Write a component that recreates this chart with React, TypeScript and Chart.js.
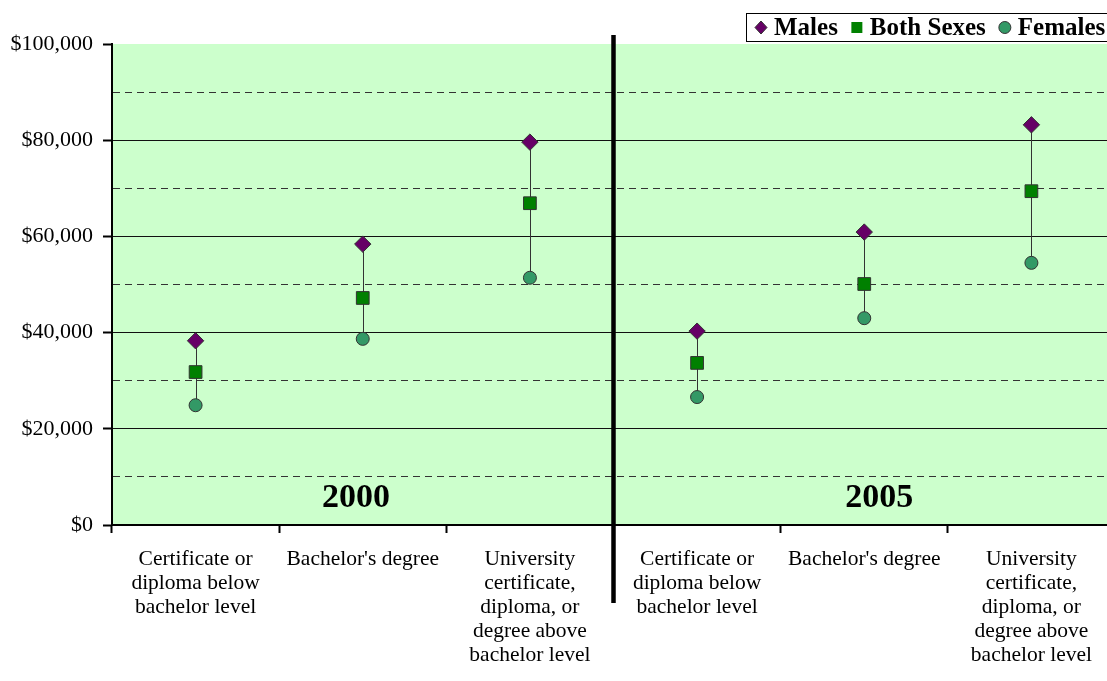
import React, { useEffect, useRef } from 'react';
import { Chart, registerables } from 'chart.js';

Chart.register(...registerables);

const categories: string[][] = [
  ['Certificate or', 'diploma below', 'bachelor level'],
  ["Bachelor's degree"],
  ['University', 'certificate,', 'diploma, or', 'degree above', 'bachelor level'],
  ['Certificate or', 'diploma below', 'bachelor level'],
  ["Bachelor's degree"],
  ['University', 'certificate,', 'diploma, or', 'degree above', 'bachelor level'],
];

const seriesNames = ['Males', 'Both Sexes', 'Females'];
const males = [38300, 58400, 79600, 40300, 60900, 83200];
const bothSexes = [31800, 47200, 66900, 33700, 50100, 69400];
const females = [24900, 38700, 51400, 26600, 43000, 54500];

const yearLabels = ['2000', '2005'];
const yearLabelCategory = [0.96, 4.09];
const dividerCategory = 2.5;

const yMin = 0;
const yMax = 100000;
const yStep = 10000;
const yLabelStep = 20000;

const FONT = "'Liberation Serif', 'Times New Roman', serif";

const decorPlugin = {
  id: 'decor',
  beforeDraw(chart: any) {
    const { ctx, chartArea: a } = chart;
    ctx.save();
    ctx.fillStyle = '#CCFFCC';
    ctx.fillRect(a.left, a.top, a.right - a.left, a.bottom - a.top);
    ctx.restore();
  },
  beforeDatasetsDraw(chart: any) {
    const { ctx, chartArea: a, scales } = chart;
    const m = chart.getDatasetMeta(0).data;
    const f = chart.getDatasetMeta(2).data;
    ctx.save();
    ctx.strokeStyle = '#333333';
    ctx.lineWidth = 1;
    for (let i = 0; i < m.length; i++) {
      ctx.beginPath();
      ctx.moveTo(Math.round(m[i].x) + 0.5, m[i].y);
      ctx.lineTo(Math.round(f[i].x) + 0.5, f[i].y);
      ctx.stroke();
    }
    ctx.fillStyle = '#000';
    ctx.font = `bold 34px ${FONT}`;
    ctx.textAlign = 'center';
    ctx.textBaseline = 'middle';
    yearLabels.forEach((t, i) => {
      ctx.fillText(t, scales.x.getPixelForValue(yearLabelCategory[i]), a.bottom - 27);
    });
    ctx.restore();
  },
  afterDraw(chart: any) {
    const { ctx, chartArea: a, scales } = chart;
    ctx.save();
    // divider between the two years
    const dx = scales.x.getPixelForValue(dividerCategory);
    ctx.strokeStyle = '#000';
    ctx.lineWidth = 4.5;
    ctx.beginPath();
    ctx.moveTo(dx, a.top - 9);
    ctx.lineTo(dx, a.bottom + 78);
    ctx.stroke();

    // legend
    ctx.fillStyle = '#fff';
    ctx.fillRect(746, 13, 400, 28);
    ctx.strokeStyle = '#000';
    ctx.lineWidth = 1;
    ctx.strokeRect(746.5, 13.5, 400, 28);
    ctx.font = `bold 25px ${FONT}`;
    ctx.textBaseline = 'middle';
    ctx.textAlign = 'left';
    let cursor = 761;
    const cy = 27.5;
    chart.data.datasets.forEach((ds: any) => {
      ctx.fillStyle = ds.backgroundColor;
      ctx.strokeStyle = '#333';
      ctx.lineWidth = 1;
      ctx.beginPath();
      if (ds.pointStyle === 'rectRot') {
        ctx.moveTo(cursor, cy - 6.5);
        ctx.lineTo(cursor + 6, cy);
        ctx.lineTo(cursor, cy + 6.5);
        ctx.lineTo(cursor - 6, cy);
        ctx.closePath();
      } else if (ds.pointStyle === 'rect') {
        ctx.rect(cursor - 5.5, cy - 5.5, 11, 11);
      } else {
        ctx.arc(cursor, cy, 6, 0, Math.PI * 2);
      }
      ctx.fill();
      if (ds.pointStyle !== 'rect') ctx.stroke();
      ctx.fillStyle = '#000';
      const tx = cursor + 13;
      ctx.fillText(ds.label, tx, cy + 1);
      cursor = tx + ctx.measureText(ds.label).width + 19;
    });
    ctx.restore();
  },
};

export default function App() {
  const ref = useRef<HTMLCanvasElement>(null);
  useEffect(() => {
    document.body.style.margin = '0';
    const canvas = ref.current!;
    const chart = new Chart(canvas, {
      type: 'line',
      data: {
        labels: categories,
        datasets: [
          {
            label: seriesNames[0],
            data: males,
            showLine: false,
            pointStyle: 'rectRot',
            pointRadius: 8.2,
            pointHoverRadius: 8.2,
            backgroundColor: '#660066',
            borderColor: '#333333',
            borderWidth: 1,
          },
          {
            label: seriesNames[1],
            data: bothSexes,
            showLine: false,
            pointStyle: 'rect',
            pointRadius: 9,
            pointHoverRadius: 9,
            backgroundColor: '#008000',
            borderColor: '#333333',
            borderWidth: 1,
          },
          {
            label: seriesNames[2],
            data: females,
            showLine: false,
            pointStyle: 'circle',
            pointRadius: 6.5,
            pointHoverRadius: 6.5,
            backgroundColor: '#339966',
            borderColor: '#333333',
            borderWidth: 1,
          },
        ],
      } as any,
      options: {
        animation: false,
        responsive: false,
        devicePixelRatio: 1,
        layout: { padding: { top: 44, left: 0, right: 8, bottom: 0 } },
        plugins: {
          legend: { display: false },
          tooltip: { enabled: false },
        },
        scales: {
          x: {
            type: 'category',
            offset: true,
            grid: {
              offset: true,
              drawOnChartArea: false,
              drawTicks: true,
              tickLength: 8,
              tickColor: '#000',
              tickWidth: 2,
            },
            border: { display: true, color: '#000', width: 2 },
            ticks: {
              color: '#000',
              padding: 14,
              maxRotation: 0,
              autoSkip: false,
              font: { family: FONT, size: 21.5, lineHeight: 24 / 21.5 },
            },
            afterFit: (scale: any) => {
              scale.height = 156;
            },
          },
          y: {
            min: yMin,
            max: yMax,
            ticks: {
              stepSize: yStep,
              color: '#000',
              padding: 10,
              font: { family: FONT, size: 22 },
              callback: (v: any) =>
                Number(v) % yLabelStep === 0 ? '$' + Number(v).toLocaleString('en-US') : '',
            },
            grid: {
              color: (c: any) => {
                const v = c.tick ? c.tick.value : null;
                if (v === null || v === yMax || v === yMin) return 'rgba(0,0,0,0)';
                return v % yLabelStep === 0 ? '#111111' : '#333333';
              },
              lineWidth: 1,
              tickLength: 9,
              tickWidth: 2,
              tickColor: (c: any) =>
                c.tick && c.tick.value % yLabelStep === 0 ? '#000' : 'rgba(0,0,0,0)',
            },
            border: {
              display: true,
              color: '#000',
              width: 2,
              dash: (c: any) => (c.tick && c.tick.value % yLabelStep !== 0 ? [7, 5] : []),
            },
            afterFit: (scale: any) => {
              scale.width = 112;
            },
          },
        },
      } as any,
      plugins: [decorPlugin],
    });
    return () => chart.destroy();
  }, []);

  return (
    <div
      style={{
        position: 'fixed',
        left: 0,
        top: 0,
        width: 1107,
        height: 681,
        overflow: 'hidden',
        background: '#fff',
      }}
    >
      <canvas ref={ref} width={1125} height={681} style={{ display: 'block', width: 1125, height: 681 }} />
    </div>
  );
}
